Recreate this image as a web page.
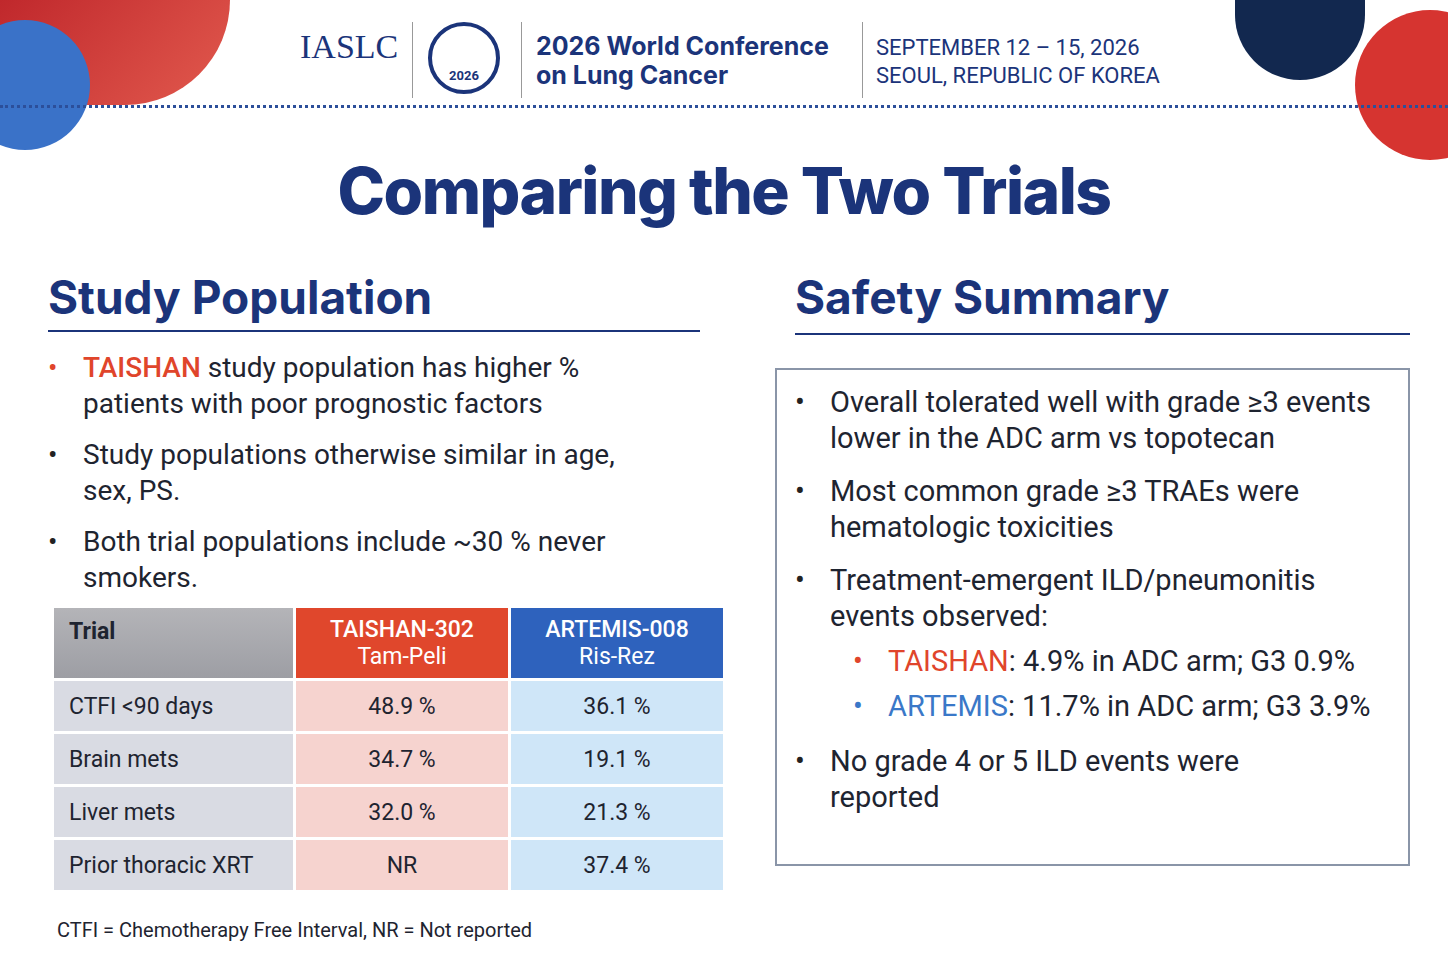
<!DOCTYPE html>
<html><head><meta charset="utf-8">
<script src="https://cdn.jsdelivr.net/npm/chart.js@4"></script>
<style>
body{margin:0;width:1448px;height:975px;background:#fff;font-family:Roboto,"Open Sans",sans-serif;position:relative;overflow:hidden;color:#1e2430}
.abs{position:absolute}
.navy{color:#1b347a}
h1{position:absolute;top:152px;left:0;width:1448px;text-align:center;margin:0;font-family:Inter,Roboto,sans-serif;font-weight:800;font-size:64px;letter-spacing:-1.5px;color:#1b347a}
h2{position:absolute;margin:0;font-family:Inter,Roboto,sans-serif;font-weight:700;font-size:46px;color:#1b347a}
ul{margin:0;padding:0;list-style:none}
li{position:relative;padding-left:35px;line-height:36px}
li:before{content:"•";position:absolute;left:0;color:#222}
li.r:before{color:#e0452b}
li.b:before{color:#3a78c8}
table{border-collapse:separate;border-spacing:3px;position:absolute;left:51px;top:605px;font-size:23px}
td{height:50px;text-align:center;padding:0}
</style></head><body>
<div class="abs" style="left:0;top:0;width:230px;height:105px;background:linear-gradient(135deg,#c0282c,#e25a4e);border-bottom-right-radius:110px"></div>
<div class="abs" style="left:-40px;top:20px;width:130px;height:130px;border-radius:50%;background:#3a72c8"></div>
<div class="abs" style="left:1235px;top:0;width:130px;height:80px;background:#12284f;border-bottom-left-radius:65px;border-bottom-right-radius:65px"></div>
<div class="abs" style="left:1355px;top:10px;width:150px;height:150px;border-radius:50%;background:#d63430"></div>
<div class="abs" style="left:0;top:105px;width:1448px;border-top:3px dotted #2c4f9a"></div>
<div class="abs" style="left:300px;top:28px;font-family:'Liberation Serif',serif;font-size:34px;color:#1b347a">IASLC</div>
<div class="abs" style="left:412px;top:22px;height:76px;border-left:1px solid #999"></div>
<div class="abs" style="left:428px;top:22px;width:72px;height:72px;border-radius:50%;border:4px solid #1b347a;box-sizing:border-box;text-align:center;line-height:100px;font-size:13px;font-weight:700;color:#1b347a">2026</div>
<div class="abs" style="left:521px;top:22px;height:76px;border-left:1px solid #999"></div>
<div class="abs navy" style="left:536px;top:32px;font-weight:700;font-size:25px;line-height:29px;font-family:Inter,sans-serif">2026 World Conference<br>on Lung Cancer</div>
<div class="abs" style="left:862px;top:22px;height:76px;border-left:1px solid #999"></div>
<div class="abs navy" style="left:876px;top:34px;font-size:22px;line-height:28px">SEPTEMBER 12 – 15, 2026<br>SEOUL, REPUBLIC OF KOREA</div>
<h1>Comparing the Two Trials</h1>
<h2 style="left:48px;top:269px">Study Population</h2>
<div class="abs" style="left:48px;top:330px;width:652px;border-top:2px solid #1b347a"></div>
<ul class="abs" style="left:48px;top:350px;font-size:28px;width:640px">
<li class="r"><b style="color:#e0452b;font-weight:500">TAISHAN</b> study population has higher %<br>patients with poor prognostic factors</li>
<li style="margin-top:15px">Study populations otherwise similar in age,<br>sex, PS.</li>
<li style="margin-top:15px">Both trial populations include ~30 % never<br>smokers.</li>
</ul>
<table id="t"></table>
<div class="abs" style="left:57px;top:918px;font-size:20px">CTFI = Chemotherapy Free Interval, NR = Not reported</div>
<h2 style="left:795px;top:269px">Safety Summary</h2>
<div class="abs" style="left:795px;top:333px;width:615px;border-top:2px solid #1b347a"></div>
<div class="abs" style="left:775px;top:368px;width:635px;height:498px;border:2px solid #8a95a8;box-sizing:border-box"></div>
<ul class="abs" style="left:795px;top:384px;font-size:29px;width:600px;line-height:37px">
<li>Overall tolerated well with grade ≥3 events<br>lower in the ADC arm vs topotecan</li>
<li style="margin-top:17px">Most common grade ≥3 TRAEs were<br>hematologic toxicities</li>
<li style="margin-top:17px">Treatment-emergent ILD/pneumonitis<br>events observed:</li>
<li class="r" style="margin-left:58px;margin-top:9px"><span style="color:#e0452b">TAISHAN</span>: 4.9% in ADC arm; G3 0.9%</li>
<li class="b" style="margin-left:58px;margin-top:9px"><span style="color:#3a78c8">ARTEMIS</span>: 11.7% in ADC arm; G3 3.9%</li>
<li style="margin-top:19px">No grade 4 or 5 ILD events were<br>reported</li>
</ul>
<script>
const trials=["TAISHAN-302","ARTEMIS-008"];
const drugs=["Tam-Peli","Ris-Rez"];
const rows=["CTFI <90 days","Brain mets","Liver mets","Prior thoracic XRT"];
const taishan=["48.9 %","34.7 %","32.0 %","NR"];
const artemis=["36.1 %","19.1 %","21.3 %","37.4 %"];
let h='<tr><td style="width:239px;height:70px;background:linear-gradient(#b4b4b8,#9d9ea4);text-align:left;padding-left:15px;vertical-align:top;padding-top:10px;font-weight:700;box-sizing:border-box">Trial</td>'+
`<td style="width:212px;background:#e0472c;color:#fff"><b style="font-weight:500">${trials[0]}</b><br>${drugs[0]}</td>`+
`<td style="width:212px;background:#2e62bd;color:#fff"><b style="font-weight:500">${trials[1]}</b><br>${drugs[1]}</td></tr>`;
rows.forEach((r,i)=>{h+=`<tr><td style="background:#d9dbe3;text-align:left;padding-left:15px">${r}</td><td style="background:#f6d3cf">${taishan[i]}</td><td style="background:#cfe6f8">${artemis[i]}</td></tr>`;});
document.getElementById('t').innerHTML=h;
</script>
</body></html>
